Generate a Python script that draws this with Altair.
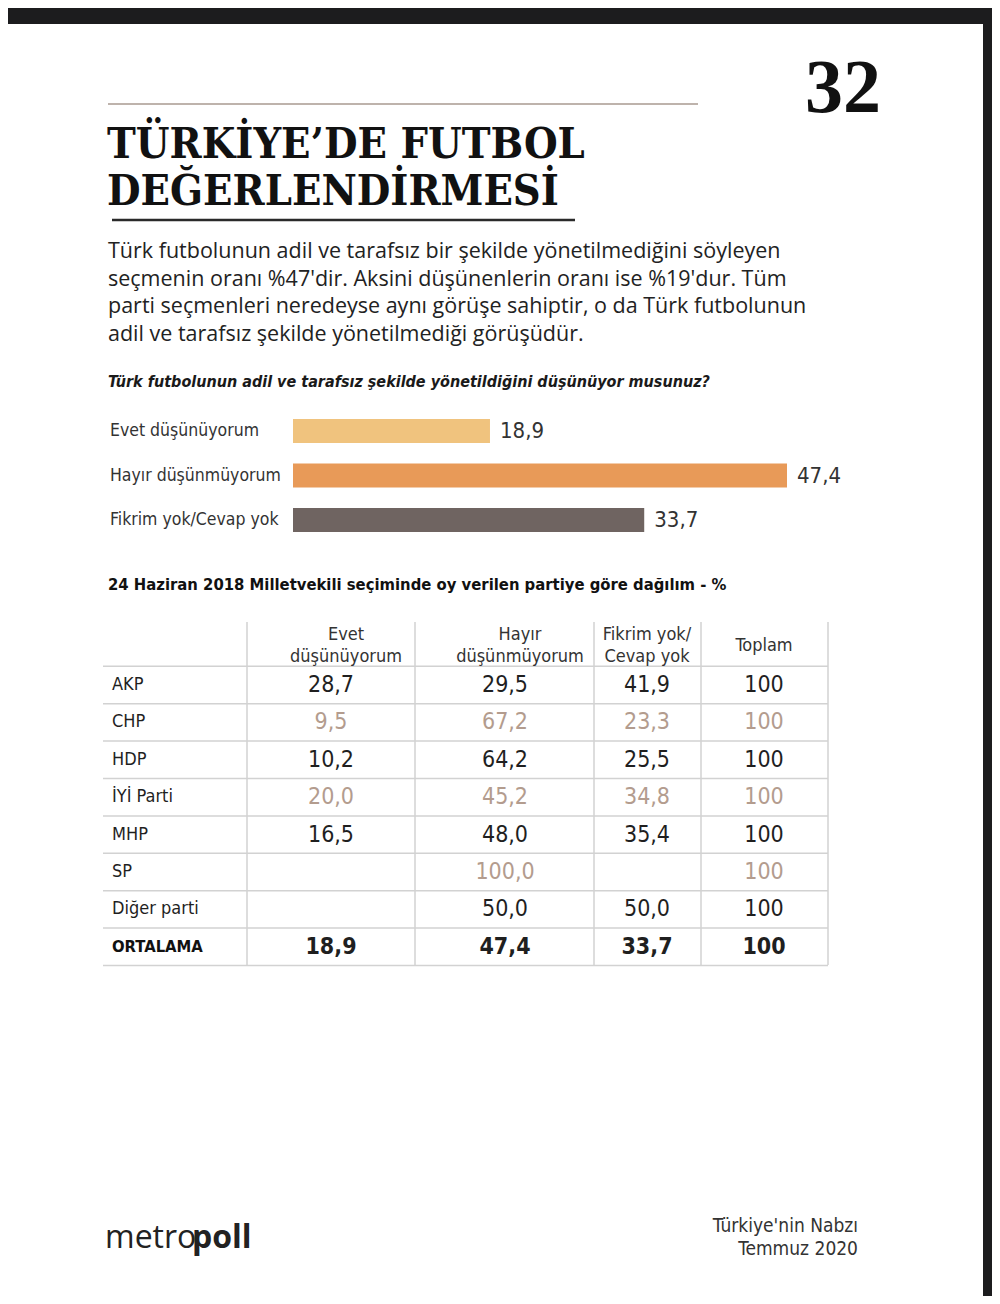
import altair as alt
import pandas as pd

# ---------------- data ----------------
title_lines = ["TÜRKİYE’DE FUTBOL", "DEĞERLENDİRMESİ"]
page_number = "32"
paragraph = [
    "Türk futbolunun adil ve tarafsız bir şekilde yönetilmediğini söyleyen",
    "seçmenin oranı %47'dir. Aksini düşünenlerin oranı ise %19'dur. Tüm",
    "parti seçmenleri neredeyse aynı görüşe sahiptir, o da  Türk futbolunun",
    "adil ve tarafsız şekilde yönetilmediği görüşüdür.",
]
question = "Türk futbolunun adil ve tarafsız şekilde yönetildiğini düşünüyor musunuz?"
answers = ["Evet düşünüyorum", "Hayır düşünmüyorum", "Fikrim yok/Cevap yok"]
answer_values = [18.9, 47.4, 33.7]
answer_colors = ["#F0C37E", "#E89A58", "#6F6461"]

table_title = "24 Haziran 2018 Milletvekili seçiminde oy verilen partiye göre dağılım - %"
parties = ["AKP", "CHP", "HDP", "İYİ Parti", "MHP", "SP", "Diğer parti", "ORTALAMA"]
evet = [28.7, 9.5, 10.2, 20.0, 16.5, None, None, 18.9]
hayir = [29.5, 67.2, 64.2, 45.2, 48.0, 100.0, 50.0, 47.4]
fikrim = [41.9, 23.3, 25.5, 34.8, 35.4, None, 50.0, 33.7]
toplam = [100, 100, 100, 100, 100, 100, 100, 100]
col_keys = ["evet", "hayir", "fikrim", "toplam"]
col_headers = [["Evet", "düşünüyorum"], ["Hayır", "düşünmüyorum"], ["Fikrim yok/", "Cevap yok"], ["Toplam"]]
tan_rows = ["CHP", "İYİ Parti", "SP"]
footer_brand = ["metro", "poll"]
footer_right = ["Türkiye'nin Nabzı", "Temmuz 2020"]

# ---------------- layout helpers ----------------
OX, OY = 8, 8
def px(x):
    return x - OX
def py(y):
    return y - OY

W, H = 984, 1288
NARROW = "DejaVu Sans Condensed, sans-serif"
PARA = "Open Sans, Noto Sans, sans-serif"
SERIF = "DejaVu Serif Condensed, DejaVu Serif, serif"
one = pd.DataFrame({"k": [0]})


def fmt(v):
    if v is None:
        return None
    if isinstance(v, int):
        return str(v)
    return f"{v:.1f}".replace(".", ",")


def label(text, x, y, size, font=NARROW, color="#222", align="left",
          baseline="middle", weight="normal", style="normal"):
    return alt.Chart(one).mark_text(
        text=text, align=align, baseline=baseline, fontSize=size, font=font,
        color=color, fontWeight=weight, fontStyle=style
    ).encode(x=alt.value(px(x)), y=alt.value(py(y)))


def hline(x1, x2, y, color, width):
    return alt.Chart(one).mark_rule(color=color, strokeWidth=width).encode(
        x=alt.value(px(x1)), x2=alt.value(px(x2)), y=alt.value(py(y)))


def vline(x, y1, y2, color, width):
    return alt.Chart(one).mark_rule(color=color, strokeWidth=width).encode(
        x=alt.value(px(x)), y=alt.value(py(y1)), y2=alt.value(py(y2)))


layers = []

# page background
layers.append(alt.Chart(one).mark_rect(color="#ffffff").encode(
    x=alt.value(0), x2=alt.value(px(983)), y=alt.value(py(24)), y2=alt.value(H)))

# header
layers.append(hline(108, 698, 104, "#a89a90", 1.5))
layers.append(label(page_number, 881, 112, 76, font="Liberation Serif, serif",
                    color="#111", align="right", baseline="alphabetic", weight="bold"))
layers.append(label(title_lines[0], 107, 158, 43, font=SERIF, color="#111",
                    baseline="alphabetic", weight="bold"))
layers.append(label(title_lines[1], 107, 205, 43, font=SERIF, color="#111",
                    baseline="alphabetic", weight="bold"))
layers.append(hline(112, 575, 220, "#2a2a2a", 2.5))

# paragraph
for i, line in enumerate(paragraph):
    layers.append(label(line, 108, 252 + i * 27.7, 21.5, font=PARA, color="#222"))

# question
layers.append(label(question, 108, 382, 16, color="#1a1a1a", weight="bold", style="italic"))

# bar chart
bars_df = pd.DataFrame({
    "answer": answers,
    "value": answer_values,
    "label": [fmt(v) for v in answer_values],
})
bx = alt.Scale(domain=[0, 47.4], range=[px(293), px(787)], nice=False, zero=True)
by = alt.Scale(type="band", domain=answers, range=[py(408.75), py(542.25)],
               paddingInner=0.46, paddingOuter=0.23)
bar_base = alt.Chart(bars_df)
bars = bar_base.mark_bar().encode(
    x=alt.X("value:Q", scale=bx, axis=None),
    y=alt.Y("answer:N", scale=by, axis=None),
    color=alt.Color("answer:N", scale=alt.Scale(domain=answers, range=answer_colors), legend=None),
)
bar_vals = bar_base.mark_text(align="left", baseline="middle", dx=10, fontSize=22,
                              font=NARROW, color="#333").encode(
    x=alt.X("value:Q", scale=bx, axis=None),
    y=alt.Y("answer:N", scale=by, axis=None),
    text="label:N",
)
bar_labels = bar_base.mark_text(align="left", baseline="middle", fontSize=17.5,
                                font=NARROW, color="#333").encode(
    x=alt.value(px(110)),
    y=alt.Y("answer:N", scale=by, axis=None),
    text="answer:N",
)
layers.append(alt.layer(bars, bar_vals, bar_labels))

# table
layers.append(label(table_title, 108, 585, 16.5, color="#111", weight="bold"))

rows = []
for ci, key in enumerate(col_keys):
    vals = [evet, hayir, fikrim, toplam][ci]
    for p, v in zip(parties, vals):
        if v is None:
            continue
        rows.append({"party": p, "col": key, "label": fmt(v),
                     "tone": "tan" if p in tan_rows else "dark"})
cells = pd.DataFrame(rows)
party_df = pd.DataFrame({"party": parties})

ty = alt.Scale(type="band", domain=parties, range=[py(666.3), py(965.5)],
               paddingInner=0, paddingOuter=0)
tone_scale = alt.Scale(domain=["dark", "tan"], range=["#1f1f1f", "#B39C8E"])
grid = "#d2d2d2"

table_layers = []
table_layers.append(alt.Chart(party_df).mark_rule(color=grid, strokeWidth=1.5).encode(
    x=alt.value(px(103)), x2=alt.value(px(828)),
    y=alt.Y("party:N", scale=ty, axis=None, bandPosition=0)))
table_layers.append(alt.Chart(party_df).transform_filter(
    alt.datum.party == "ORTALAMA").mark_rule(color=grid, strokeWidth=1.5).encode(
    x=alt.value(px(103)), x2=alt.value(px(828)),
    y=alt.Y("party:N", scale=ty, axis=None, bandPosition=1)))

row_label_normal = alt.Chart(party_df).transform_filter(
    alt.datum.party != "ORTALAMA").mark_text(
    align="left", baseline="middle", fontSize=18, font=NARROW, color="#1f1f1f").encode(
    x=alt.value(px(112)), y=alt.Y("party:N", scale=ty, axis=None), text="party:N")
row_label_bold = alt.Chart(party_df).transform_filter(
    alt.datum.party == "ORTALAMA").mark_text(
    align="left", baseline="middle", fontSize=16.5, font=NARROW, color="#111",
    fontWeight="bold").encode(
    x=alt.value(px(112)), y=alt.Y("party:N", scale=ty, axis=None), text="party:N")
table_layers += [row_label_normal, row_label_bold]

col_centers = [331, 505, 647, 764]
for key, cx in zip(col_keys, col_centers):
    for bold in (False, True):
        cond = (alt.datum.party == "ORTALAMA") if bold else (alt.datum.party != "ORTALAMA")
        table_layers.append(
            alt.Chart(cells).transform_filter(alt.datum.col == key).transform_filter(cond)
            .mark_text(align="center", baseline="middle", fontSize=23, font=NARROW,
                       fontWeight="bold" if bold else "normal")
            .encode(
                x=alt.value(px(cx)),
                y=alt.Y("party:N", scale=ty, axis=None),
                text="label:N",
                color=alt.Color("tone:N", scale=tone_scale, legend=None),
            )
        )
layers.append(alt.layer(*table_layers))

for vx in [247, 415, 594, 701, 828]:
    layers.append(vline(vx, 622, 965, grid, 1.5))

header_centers = [346, 520, 647, 764]
for hdr, cx in zip(col_headers, header_centers):
    if len(hdr) == 2:
        layers.append(label(hdr[0], cx, 635, 18, color="#333", align="center"))
        layers.append(label(hdr[1], cx, 657, 18, color="#333", align="center"))
    else:
        layers.append(label(hdr[0], cx, 646, 18, color="#333", align="center"))

# footer
layers.append(label(footer_brand[0], 105, 1248, 32, font=PARA, color="#222",
                    baseline="alphabetic"))
layers.append(label(footer_brand[1], 192, 1248, 32, font=PARA, color="#222",
                    baseline="alphabetic", weight="bold"))
layers.append(label(footer_right[0], 858, 1226, 19, color="#333", align="right"))
layers.append(label(footer_right[1], 858, 1249, 19, color="#333", align="right"))

chart = alt.layer(*layers).resolve_scale(
    x="independent", y="independent", color="independent"
).properties(
    width=W, height=H, padding=0, background="#1c1c1e",
    autosize=alt.AutoSizeParams(type="none"),
).configure_view(stroke=None)

chart.save("out.html", embed_options={"renderer": "svg", "actions": False})
